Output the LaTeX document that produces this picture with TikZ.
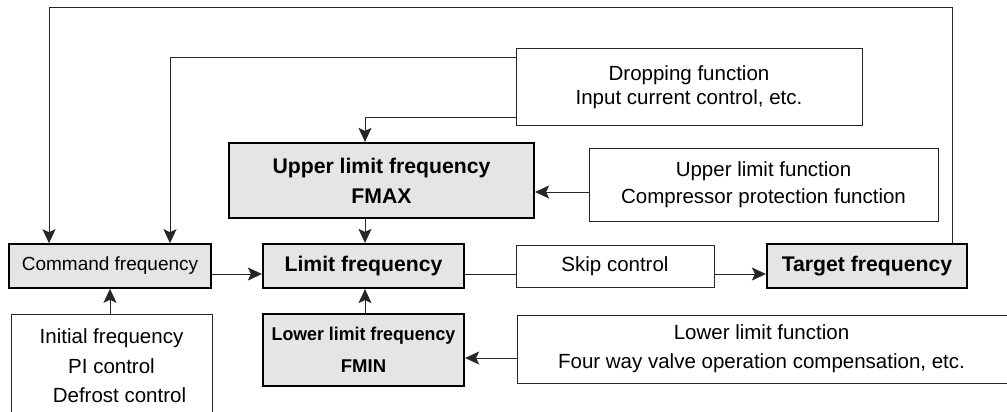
\documentclass[tikz,border=0pt]{standalone}
\usepackage{fontspec}
\setmainfont{Liberation Sans}
\usetikzlibrary{arrows.meta}
\begin{document}
\begin{tikzpicture}[x=1pt,y=-1pt,
  every node/.style={inner sep=0pt, align=center, anchor=center},
  wbox/.style={draw=black!85, line width=1pt, fill=white, font=\fontsize{20.5}{28}\selectfont},
  gbox/.style={draw=black, line width=2.2pt, fill=black!10, font=\fontsize{21.2}{30}\selectfont\bfseries},
  conn/.style={draw=black!85, line width=1pt},
  arr/.style={conn, -{Stealth[length=14pt,width=13pt,inset=3pt]}}
]
\useasboundingbox (0,0) rectangle (1007,412);
\clip (0,0) rectangle (1007,412);
% boxes
\node[wbox, minimum width=346pt, minimum height=76pt, font=\fontsize{20.5}{24}\selectfont] (drop) at (689,87) {Dropping function\\Input current control, etc.};
\node[gbox, minimum width=305pt, minimum height=75pt] (fmax) at (381.5,180.5) {Upper limit frequency\\FMAX};
\node[wbox, minimum width=349pt, minimum height=73pt, font=\fontsize{20.5}{27}\selectfont] (upf) at (763.5,184.5) {Upper limit function\\Compressor protection function};
\node[gbox, line width=1.6pt, minimum width=202pt, minimum height=44pt, font=\fontsize{19}{22}\selectfont] (cmd) at (110,266) {Command frequency};
\node[gbox, minimum width=201pt, minimum height=44pt] (lim) at (363.5,266) {Limit frequency};
\node[wbox, minimum width=198pt, minimum height=42pt] (skip) at (615,266) {Skip control};
\node[gbox, minimum width=200pt, minimum height=44pt] (tgt) at (867,266) {Target frequency};
\node[gbox, minimum width=201pt, minimum height=72pt, font=\fontsize{18.5}{32}\selectfont\bfseries] (fmin) at (363.5,350) {\scalebox{0.96}[1]{Lower limit frequency}\\FMIN};
\node[wbox, minimum width=500pt, minimum height=68pt, font=\fontsize{20.5}{29}\selectfont, text depth=4pt] (lowf) at (767,349) {\hspace*{-11pt}Lower limit function\\\hspace*{-11pt}Four way valve operation compensation, etc.};
\node[wbox, minimum width=201pt, minimum height=103pt, font=\fontsize{20.5}{29.5}\selectfont, anchor=north] (init) at (111.5,314) {Initial frequency\\PI control\\\hspace*{16pt}Defrost control};
% coordinates for feedback corners
\coordinate (c1) at (952,8);
\coordinate (c2) at (49,8);
\coordinate (d1) at (170,58);
\coordinate (d2) at (365,117);
% connectors
\draw[arr] (tgt.north -| c1) -- (c1) -- (c2) -- (c2 |- cmd.north);
\draw[arr] (drop.west |- d1) -- (d1) -- (d1 |- cmd.north);
\draw[arr] (drop.west |- d2) -- (d2) -- (d2 |- fmax.north);
\draw[arr] (upf.west |- 0,192) -- (fmax.east |- 0,192);
\draw[arr] (fmax.south -| 365,0) -- (lim.north -| 365,0);
\draw[arr] (fmin.north -| 365,0) -- (lim.south -| 365,0);
\draw[arr] (lowf.west |- 0,358) -- (fmin.east |- 0,358);
\draw[arr] (init.north -| cmd.south) -- (cmd.south);
\draw[arr] (cmd.east |- 0,274) -- (lim.west |- 0,274);
\draw[conn] (lim.east |- 0,274) -- (skip.west |- 0,274);
\draw[arr] (skip.east |- 0,274) -- (tgt.west |- 0,274);
\end{tikzpicture}
\end{document}
